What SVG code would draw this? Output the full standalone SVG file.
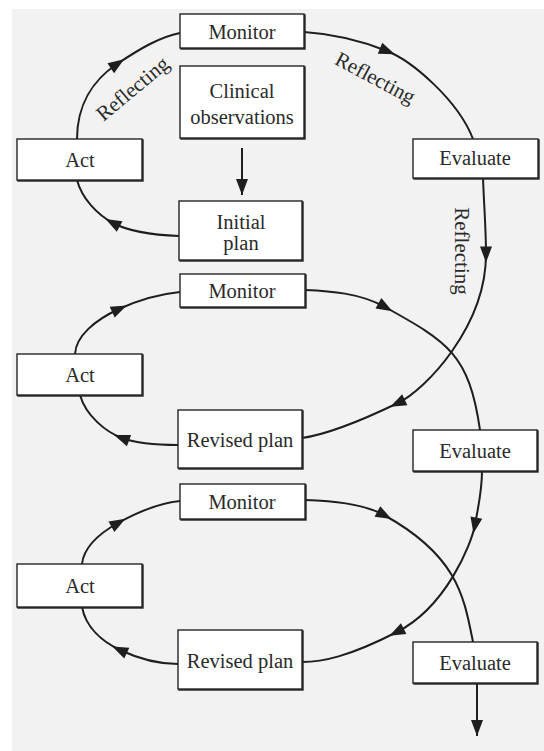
<svg xmlns="http://www.w3.org/2000/svg" width="544" height="751" viewBox="0 0 544 751">
<style>
.box{fill:#ffffff;stroke:#262626;stroke-width:1.4;filter:url(#edge)}
.t{font-family:"Liberation Serif","Times New Roman",serif;font-size:20.5px;fill:#2a2a2a;text-anchor:middle}
.lbl{font-family:"Liberation Serif","Times New Roman",serif;font-size:21px;fill:#2a2a2a;text-anchor:middle}
.c{fill:none;stroke:#1e1e1e;stroke-width:2}
.cm{marker-mid:url(#mid)}
.ce{marker-end:url(#end)}
</style>
<defs>
<filter id="edge" x="-5%" y="-5%" width="110%" height="115%">
<feOffset in="SourceAlpha" dx="1" dy="1" result="o"/>
<feFlood flood-color="#262626"/>
<feComposite in2="o" operator="in" result="s"/>
<feMerge><feMergeNode in="s"/><feMergeNode in="SourceGraphic"/></feMerge>
</filter>
<marker id="mid" markerUnits="userSpaceOnUse" viewBox="-10 -10 20 20" markerWidth="20" markerHeight="20" refX="0" refY="0" orient="auto">
<path d="M-7.5,-6 L8.5,0 L-7.5,6 Z" fill="#1e1e1e"/>
</marker>
<marker id="end" markerUnits="userSpaceOnUse" viewBox="-17 -8 19 16" markerWidth="19" markerHeight="16" refX="0" refY="0" orient="auto">
<path d="M-16,-6 L0,0 L-16,6 Z" fill="#1e1e1e"/>
</marker>
</defs>
<rect x="12" y="9" width="532" height="742" fill="#f2f2f2"/>
<g id="connectors">
<path class="c cm" d="M77,139 C77,105 93,80 117,64 S160,37 180,33"/>
<path class="c cm" d="M179,236 C152,235 128,231 113,223 S82,199 77,180"/>
<path class="c cm" d="M304,32 C335,34 362,41 387,51 S458,100 473,139"/>
<path class="c cm" d="M483,178 C484,205 486,230 486,254 C486,327 425,390 398,403 S330,434 302,438"/>
<path class="c ce" d="M242,148 L242,195"/>
<path class="c cm" d="M75,354 C76,336 95,320 119,309 S160,294 180,292"/>
<path class="c cm" d="M178,445 C162,445 138,444 122,438 S86,416 80,395"/>
<path class="c cm" d="M305,290 C330,291 360,293 385,307 C448,342 469,354 480,430"/>
<path class="c cm" d="M482,471 C482,492 478,507 475,525 C471,545 446,607 397,632 S322,662 302,662"/>
<path class="c cm" d="M82,564 C84,546 100,533 118,523 S160,503 180,501"/>
<path class="c cm" d="M178,664 C158,664 137,658 120,650 S86,628 82,607"/>
<path class="c cm" d="M305,500 C330,501 362,503 384,515 C458,556 464,597 473,642"/>
<path class="c ce" d="M477,683 L477,736"/>
</g>
<g id="labels">
<text class="lbl" transform="translate(137,94) rotate(-40)">Reflecting</text>
<text class="lbl" transform="translate(372,84) rotate(28)">Reflecting</text>
<text class="lbl" transform="translate(455,251) rotate(90)">Reflecting</text>
</g>
<g id="monitor1"><rect class="box" x="180" y="14" width="124" height="34"/><text class="t" x="242" y="39">Monitor</text></g>
<g id="clinical"><rect class="box" x="180" y="66" width="124" height="72"/><text class="t" x="242" y="98">Clinical</text><text class="t" x="242" y="124">observations</text></g>
<g id="initial-plan"><rect class="box" x="179" y="201" width="123" height="59"/><text class="t" x="241" y="229">Initial</text><text class="t" x="241" y="250">plan</text></g>
<g id="act1"><rect class="box" x="17" y="139" width="125" height="41"/><text class="t" x="80" y="167">Act</text></g>
<g id="evaluate1"><rect class="box" x="413" y="139" width="125" height="39"/><text class="t" x="475" y="165">Evaluate</text></g>
<g id="monitor2"><rect class="box" x="180" y="274" width="125" height="33"/><text class="t" x="242" y="298">Monitor</text></g>
<g id="act2"><rect class="box" x="17" y="354" width="125" height="41"/><text class="t" x="80" y="382">Act</text></g>
<g id="revised-plan1"><rect class="box" x="178" y="410" width="124" height="58"/><text class="t" x="240" y="447">Revised plan</text></g>
<g id="evaluate2"><rect class="box" x="413" y="430" width="124" height="41"/><text class="t" x="475" y="458">Evaluate</text></g>
<g id="monitor3"><rect class="box" x="180" y="484" width="125" height="35"/><text class="t" x="242" y="509">Monitor</text></g>
<g id="act3"><rect class="box" x="17" y="564" width="125" height="43"/><text class="t" x="80" y="593">Act</text></g>
<g id="revised-plan2"><rect class="box" x="178" y="630" width="124" height="59"/><text class="t" x="240" y="668">Revised plan</text></g>
<g id="evaluate3"><rect class="box" x="413" y="642" width="124" height="41"/><text class="t" x="475" y="670">Evaluate</text></g>
</svg>
